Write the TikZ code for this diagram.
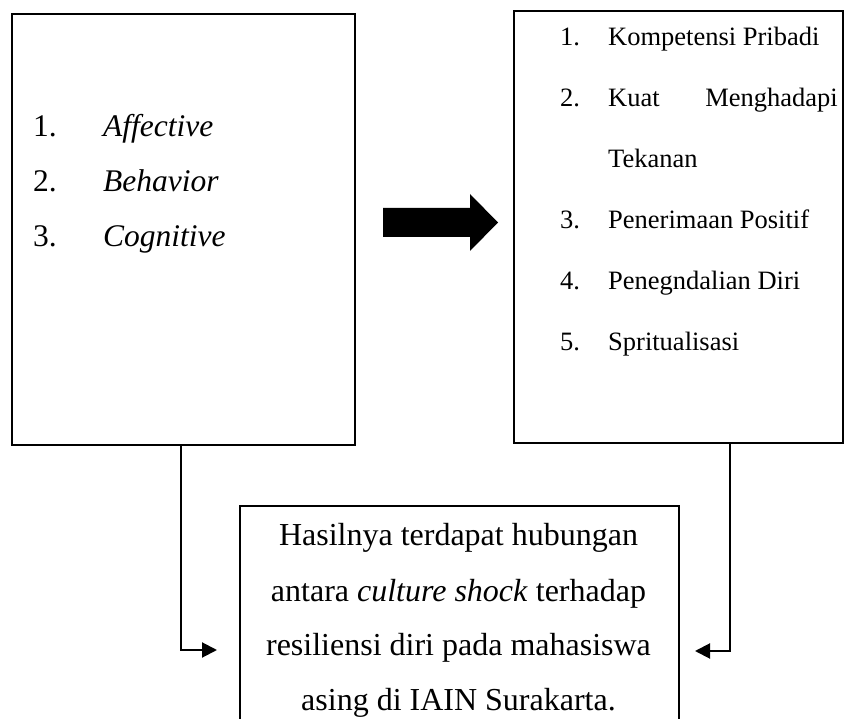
\documentclass[tikz,border=0pt]{standalone}
\usepackage{fontspec}
\setmainfont{Liberation Serif}
\usetikzlibrary{arrows.meta}
\begin{document}
\begin{tikzpicture}[x=1pt,y=-1pt,
  box/.style={draw,line width=2pt,inner sep=0pt,anchor=north west},
  conn/.style={line width=2pt,-{Triangle[length=15pt,width=15pt]}},
  lt/.style={inner sep=0pt,anchor=base west,font=\fontsize{31.5}{31.5}\selectfont},
  rt/.style={inner sep=0pt,anchor=base west,font=\fontsize{26.5}{26.5}\selectfont},
  bt/.style={inner sep=0pt,anchor=base,font=\fontsize{32}{32}\selectfont}]
\useasboundingbox (0,0) rectangle (844,719);
\clip (0,0) rectangle (844,719);
% boxes
\node[box,minimum width=343pt,minimum height=431pt] (L) at (11,13) {};
\node[box,minimum width=329pt,minimum height=432pt] (R) at (513,10) {};
\node[box,minimum width=439pt,minimum height=260pt] (B) at (239,505) {};
% left texts
\node[lt] (l1n) at (33,137) {1.};
\node[lt] (l1t) at (103,137) {\textit{Affective}};
\node[lt] (l2n) at (33,192) {2.};
\node[lt] (l2t) at (103,192) {\textit{Behavior}};
\node[lt] (l3n) at (33,247) {3.};
\node[lt] (l3t) at (103,247) {\textit{Cognitive}};
% right texts
\node[rt] (r1n) at (560,46) {1.};
\node[rt] (r1t) at (608,46) {Kompetensi Pribadi};
\node[rt] (r2n) at (560,107) {2.};
\node[rt] (r2a) at (608,107) {Kuat};
\node[rt,anchor=base east] (r2b) at (838,107) {Menghadapi};
\node[rt] (r2c) at (608,168) {Tekanan};
\node[rt] (r3n) at (560,229) {3.};
\node[rt] (r3t) at (608,229) {Penerimaan Positif};
\node[rt] (r4n) at (560,290) {4.};
\node[rt] (r4t) at (608,290) {Penegndalian Diri};
\node[rt] (r5n) at (560,351) {5.};
\node[rt] (r5t) at (608,351) {Spritualisasi};
% bottom texts
\node[bt] (b1) at (458.5,545) {Hasilnya terdapat hubungan};
\node[bt] (b2) at (458.5,601) {antara \textit{culture shock} terhadap};
\node[bt] (b3) at (458.5,655) {resiliensi diri pada mahasiswa};
\node[bt] (b4) at (458.5,710) {asing di IAIN Surakarta.};
% block arrow
\fill[black] (383,208) -- (470,208) -- (470,194) -- (498,222.5) -- (470,251) -- (470,237) -- (383,237) -- cycle;
% connectors
\coordinate (la) at (217,650);
\coordinate (ra) at (695,651);
\draw[conn] ([xshift=-2.5pt]L.south) |- (la);
\draw[conn] ([xshift=51.5pt]R.south) |- (ra);
\end{tikzpicture}
\end{document}
